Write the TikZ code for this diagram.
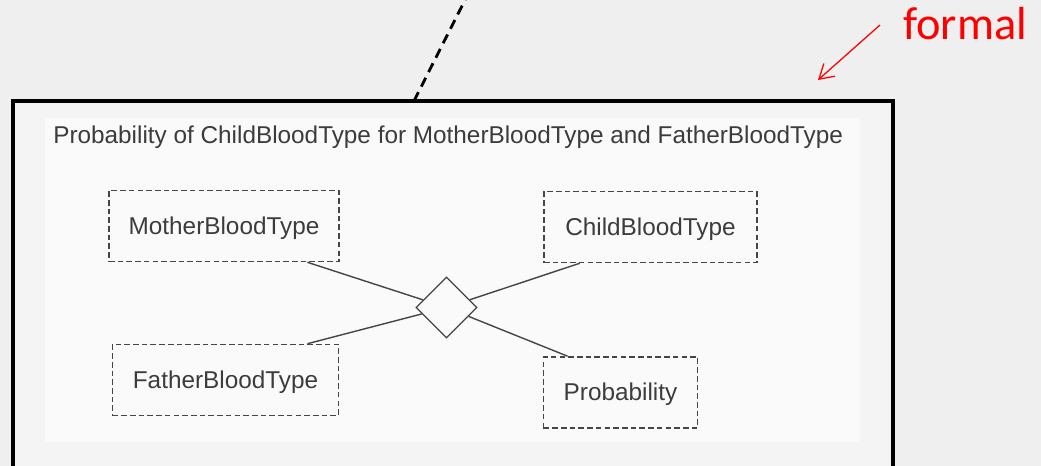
\documentclass[tikz,border=0pt]{standalone}
\usepackage{fontspec}
\setmainfont{Liberation Sans}
\newfontfamily\calibrifont{Carlito}
\usepackage{tikz}
\usetikzlibrary{arrows.meta,calc,shapes.geometric}
\definecolor{bggray}{HTML}{EFEFEF}
\definecolor{framegray}{HTML}{F4F4F4}
\definecolor{panelwhite}{HTML}{FAFAFA}
\definecolor{linegray}{HTML}{454545}
\definecolor{textgray}{HTML}{3C3C3C}
\definecolor{notered}{HTML}{FF0000}

\begin{document}
\begin{tikzpicture}[x=0.025cm, y=-0.025cm,
    entity/.style={draw=linegray, dash pattern=on 4pt off 2.2pt, line width=1.1pt,
        text=textgray, font=\fontsize{17.3}{20}\selectfont, text height=12pt, text depth=0pt,
        minimum height=1.775cm, inner sep=0pt},
    rel/.style={diamond, draw=linegray, line width=0.9pt, fill=panelwhite, aspect=1,
        minimum width=1.525cm, minimum height=1.525cm, inner sep=0pt},
    link/.style={draw=linegray, line width=1pt}]
    \useasboundingbox (0,0) rectangle (1041,466);
    %%Nen
    \fill[bggray] (0,0) rectangle (1041,466);
    \fill[framegray] (13,101) rectangle (893,466);
    \fill[panelwhite] (45,118) rectangle (860,442);
    \draw[line width=2.2pt] (13,466) -- (13,101) -- (893,101) -- (893,466);
    %%Duong net dut
    \coordinate (cutbot) at (414,101);
    \coordinate (cuttop) at (466,-2);
    \draw[line width=2pt, dash pattern=on 7pt off 4.5pt] (cutbot) -- (cuttop);
    %%Ghi chu
    \node[font=\calibrifont\fontsize{33}{36}\selectfont, text=notered, anchor=base west, inner sep=0pt] (formal) at (903,40) {formal};
    \coordinate (notestart) at (880,25);
    \coordinate (noteend) at (818,80);
    \draw[notered, line width=0.9pt, -{Straight Barb[length=10pt, width=12pt]}] (notestart) -- (noteend);
    %%Tieu de
    \node[font=\fontsize{17.3}{20}\selectfont, text=textgray, anchor=base west, inner sep=0pt] (title) at (53,143)
        {Probability of ChildBloodType for MotherBloodType and FatherBloodType};
    %%Cac thuc the
    \node[entity, minimum width=5.75cm] (mother) at (224,226) {MotherBloodType};
    \node[entity, minimum width=5.325cm] (child) at (650.5,227) {ChildBloodType};
    \node[entity, minimum width=5.65cm] (father) at (225.5,380) {FatherBloodType};
    \node[entity, minimum width=3.85cm] (prob) at (620.5,392.5) {Probability};
    \node[rel] (relation) at (446.5,307.5) {};
    %%Canh
    \draw[link] ($(mother.south west)!0.86!(mother.south east)$) -- (relation);
    \draw[link] ($(child.south west)!0.17!(child.south east)$) -- (relation);
    \draw[link] ($(father.north west)!0.86!(father.north east)$) -- (relation);
    \draw[link] ($(prob.north west)!0.16!(prob.north east)$) -- (relation);
\end{tikzpicture}
\end{document}
